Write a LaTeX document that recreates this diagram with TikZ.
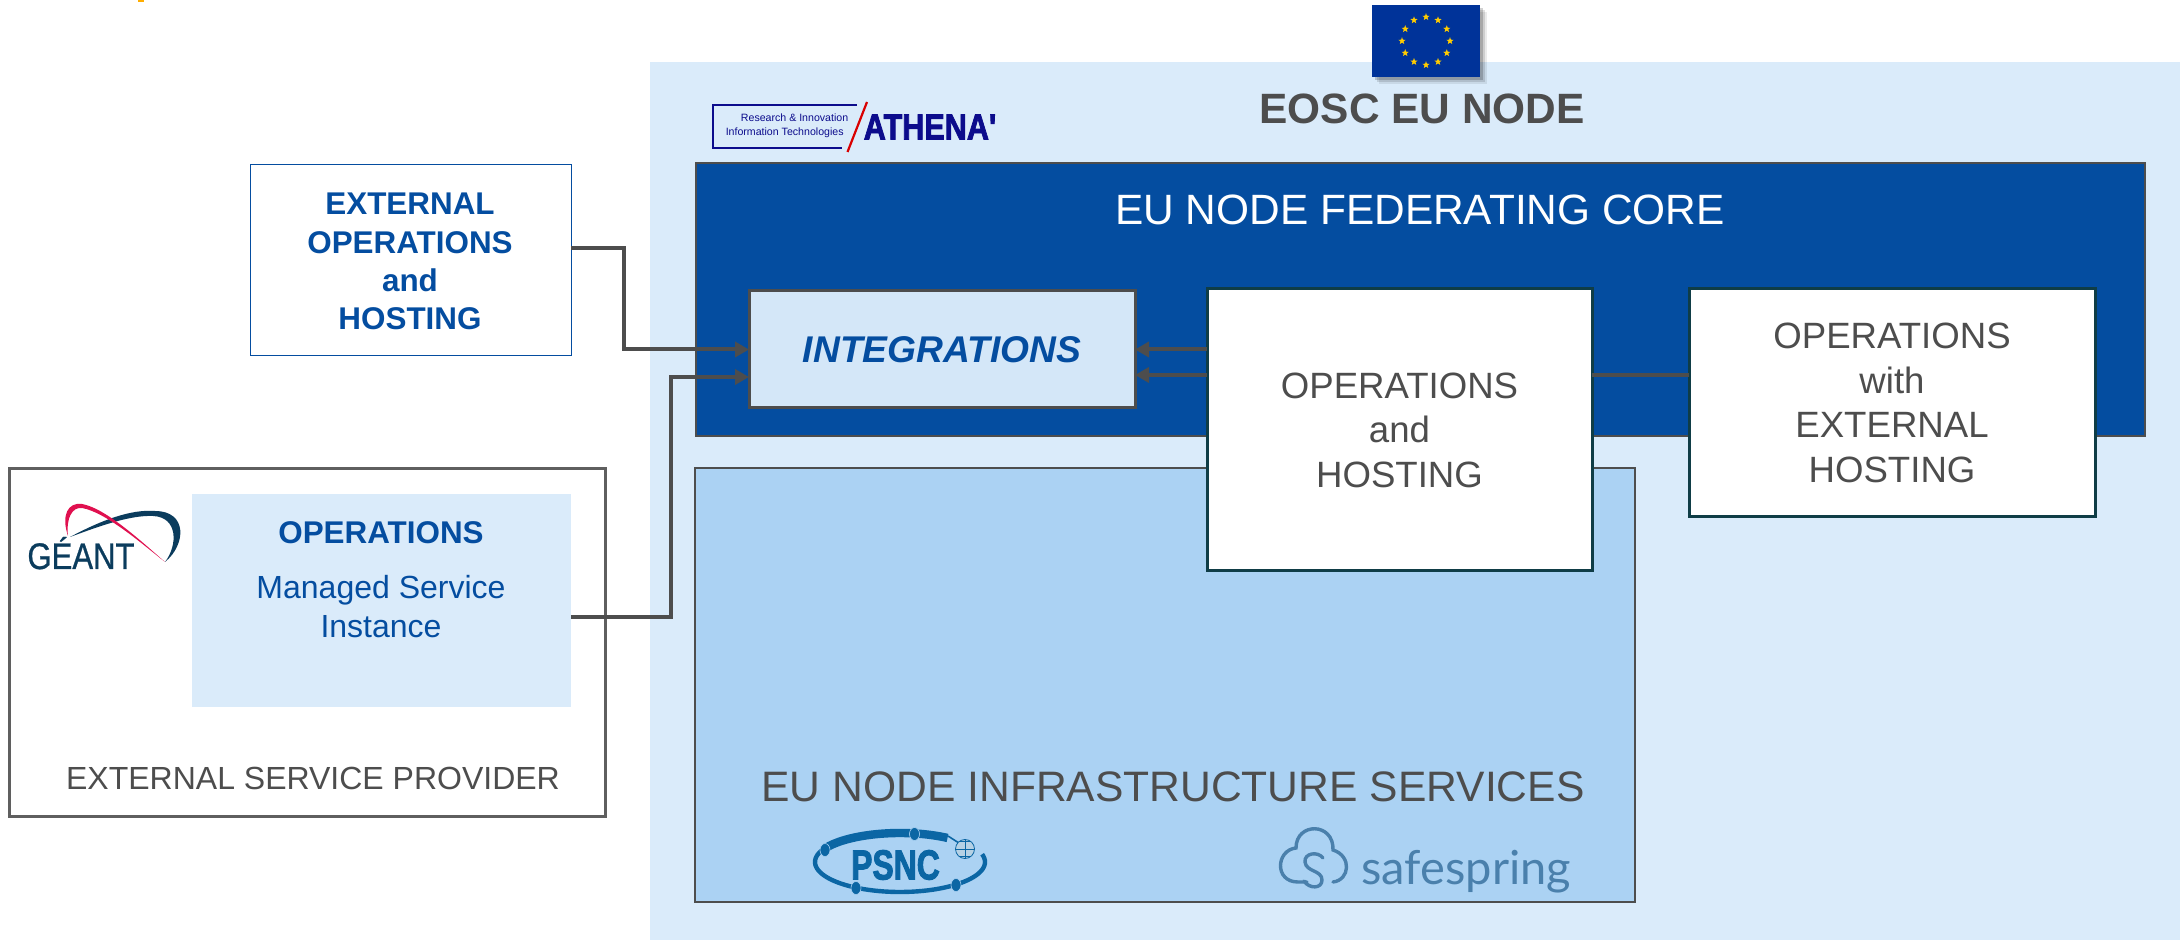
\documentclass[tikz,border=0pt]{standalone}
\usepackage{fontspec}
\setmainfont{Liberation Sans}
\newfontfamily\lato{Lato}
\newfontfamily\heavyfont[FakeBold=2.5]{Liberation Sans Bold}
\newfontfamily\midfont[FakeBold=0.8]{Liberation Sans}
\usetikzlibrary{arrows.meta,shapes.geometric}
\definecolor{panelc}{HTML}{DAEBFA}
\definecolor{infrac}{HTML}{ABD2F3}
\definecolor{corec}{HTML}{044DA0}
\definecolor{integc}{HTML}{D4E7F8}
\definecolor{greyt}{HTML}{4D4D4D}
\definecolor{tealb}{HTML}{0F3D46}
\definecolor{euflag}{HTML}{003399}
\definecolor{eustar}{HTML}{FFCC00}
\definecolor{navy}{HTML}{0C0C8C}
\definecolor{geantc}{HTML}{0B3C5D}
\definecolor{geantr}{HTML}{E0104F}
\definecolor{psncc}{HTML}{0B66A4}
\definecolor{safec}{HTML}{4A80AC}
\newcommand{\fs}[2]{\fontsize{#1}{#2}\selectfont}
% name, x1, y1, x2, y2, style, text
\newcommand{\pxbox}[7]{\node[#6,inner sep=0pt,outer sep=0pt,minimum width={(#4-#2)*0.5pt},minimum height={(#5-#3)*0.5pt}] (#1) at ({(#2+#4)/2},{(#3+#5)/2}) {#7};}
\tikzset{
  conn/.style={draw=greyt,line width=2pt},
  connarrow/.style={conn,-{Triangle[length=7pt,width=7.5pt]}},
  whitebox/.style={draw=tealb,line width=1.5pt,fill=white,text=greyt,align=center},
  bluetxt/.style={text=corec,align=center},
  greytxt/.style={text=greyt,align=center},
}
\begin{document}
\begin{tikzpicture}[x=0.5pt,y=-0.5pt]
\useasboundingbox (0,0) rectangle (2180,940);
\fill[white] (0,0) rectangle (2180,940);
\pxbox{mark}{138}{0}{144}{2}{fill=eustar!60!orange}{}
% main panels
\pxbox{panel}{650}{62}{2180}{940}{fill=panelc}{}
\pxbox{core}{696}{163}{2145}{436}{fill=corec,draw=greyt,line width=0.6pt}{}
\pxbox{infra}{695}{468}{1635}{902}{fill=infrac,draw=greyt,line width=0.7pt}{}
% flag
\foreach \s/\op in {7/0.08,5/0.12,3/0.18}{
  \fill[black,opacity=\op] (1372+\s,5+\s) rectangle (1480+\s,77+\s);
}
\pxbox{flag}{1372}{5}{1480}{77}{fill=euflag}{}
\foreach \i in {1,...,12}{
  \node[star,star points=5,star point ratio=2.4,fill=eustar,inner sep=0pt,minimum size=3.8pt] (st\i) at ({1426+24*cos(\i*30)},{41+24*sin(\i*30)}) {};
}
\node[font=\bfseries\fs{21.2}{25},greytxt] (title) at (1422,109) {EOSC EU NODE};
\node[font=\fs{21.2}{25},text=white] (coretitle) at (1420,210) {EU NODE FEDERATING CORE};
\node[font=\fs{21.3}{26},greytxt] (infratitle) at (1173,787) {EU NODE INFRASTRUCTURE SERVICES};
% boxes
\pxbox{integ}{749}{291}{1135}{408}{fill=integc,draw=greyt,line width=1.5pt,text=corec,font=\bfseries\itshape\fs{18.6}{22}}{\raisebox{-0.7pt}{INTEGRATIONS}}
\pxbox{ops}{1207}{289}{1592}{571}{whitebox,font=\fs{18.3}{22.25}}{OPERATIONS\\and\\HOSTING}
\pxbox{opsext}{1689}{289}{2095}{517}{whitebox,font=\fs{18.3}{22.3}}{OPERATIONS\\with\\EXTERNAL\\HOSTING}
\pxbox{ext}{250}{164}{571}{355}{fill=white,draw=corec,line width=0.45pt}{}
\node[bluetxt,font=\bfseries\fs{15.7}{19.1}] (exttext) at (410,261.5) {EXTERNAL\\OPERATIONS\\and\\HOSTING};
\pxbox{esp}{9}{469}{605}{816}{draw=greyt!90,line width=1.5pt,fill=white}{}
\pxbox{inner}{192}{494}{571}{707}{fill=panelc}{}
\node[bluetxt,font=\bfseries\fs{15.7}{19}] (innerhead) at (381,533) {OPERATIONS};
\node[bluetxt,font=\fs{16}{19.5}] (innerbody) at (381,607) {Managed Service\\Instance};
\node[greytxt,font=\fs{16}{19}] (esplabel) at (313,778) {EXTERNAL SERVICE PROVIDER};
% connectors
\coordinate (extrow) at (0,248);
\coordinate (bendA) at (624,349.5);
\coordinate (innerrow) at (0,617);
\coordinate (bendB) at (671,377);
\coordinate (rowA) at (0,349.5);
\coordinate (rowB) at (0,375);
\draw[connarrow] (ext.east |- extrow) -- (bendA |- extrow) -- (bendA) -- (integ.west |- bendA);
\draw[connarrow] (inner.east |- innerrow) -- (bendB |- innerrow) -- (bendB) -- (integ.west |- bendB);
\draw[connarrow] (ops.west |- rowA) -- (integ.east |- rowA);
\draw[connarrow] (ops.west |- rowB) -- (integ.east |- rowB);
\draw[conn] (ops.east |- rowB) -- (opsext.west |- rowB);
% ATHENA logo
\draw[navy,line width=1.1pt] (857,105) -- (713,105) -- (713,148) -- (842,148);
\draw[red!85!black,line width=1.1pt] (867,102) -- (847.5,152);
\node[text=navy,font=\fs{5.3}{6},anchor=east,inner sep=0pt] (ath1) at (848.6,118) {Research \& Innovation};
\node[text=navy,font=\fs{5.3}{6},anchor=east,inner sep=0pt] (ath2) at (844,133) {Information Technologies};
\node[text=navy,font=\heavyfont\fs{18}{20},xscale=0.85,inner sep=0pt] (athena) at (930,127) {ATHENA'};
% GEANT logo
\node[text=geantc,font=\midfont\fs{18.5}{20},xscale=0.84,inner sep=0pt,anchor=base] (geant) at (81,569) {GÉANT};
\fill[geantc] (70,537) .. controls (100,521) and (130,509) .. (155,511) .. controls (188,511) and (186,545) .. (165,562) .. controls (178,545) and (178,517) .. (153,516) .. controls (130,515) and (100,526) .. (70,537) -- cycle;
\fill[geantr] (68,536) .. controls (61,515) and (68,502) .. (82,504) .. controls (105,508) and (140,540) .. (165,562) .. controls (140,542) and (105,512) .. (82,508) .. controls (72,507) and (66,518) .. (68,536) -- cycle;
% PSNC logo
\draw[psncc,line width=4.2pt] plot[domain=56:153,samples=30] ({900+85*cos(\x)},{862-29*sin(\x)});
\draw[psncc,line width=2.2pt] plot[domain=15:-205,samples=60] ({900+85*cos(\x)},{862-30*sin(\x)});
\draw[psncc,line width=0.8pt] (948,836) -- (962,845);
\foreach \n/\px/\py in {a/914.5/834,b/825/850,c/956/885,d/856/888}{
  \node[ellipse,fill=psncc,draw=infrac,line width=0.3pt,inner sep=0pt,minimum width=5pt,minimum height=6.5pt] (dot\n) at (\px,\py) {};
}
\node[circle,fill=white!70!psncc,draw=psncc,line width=0.4pt,inner sep=0pt,minimum size=9.5pt] (globe) at (965,849) {};
\draw[psncc,line width=0.35pt] (globe.north) -- (globe.south) (globe.west) -- (globe.east) (globe.130) -- (globe.50) (globe.230) -- (globe.310);
\node[text=psncc,font=\heavyfont\fs{21}{24},xscale=0.76,inner sep=0pt] (psnc) at (895.5,865) {PSNC};
% safespring logo
\draw[safec,line width=1.7pt,line cap=round] (1307,882) -- (1298,882) .. controls (1274,882) and (1276,850) .. (1296,848) .. controls (1296,822) and (1334,822) .. (1333,850) .. controls (1352,856) and (1350,880) .. (1333,882);
\draw[safec,line width=1.7pt,line cap=round] (1323,858) .. controls (1318,851) and (1304,853) .. (1305,862) .. controls (1306,872) and (1322,870) .. (1322,880) .. controls (1322,889) and (1309,889) .. (1304,881);
\node[text=safec,font=\lato\fs{23.5}{27},inner sep=0pt,anchor=base west] (safe) at (1361,884) {safespring};
\end{tikzpicture}
\end{document}
